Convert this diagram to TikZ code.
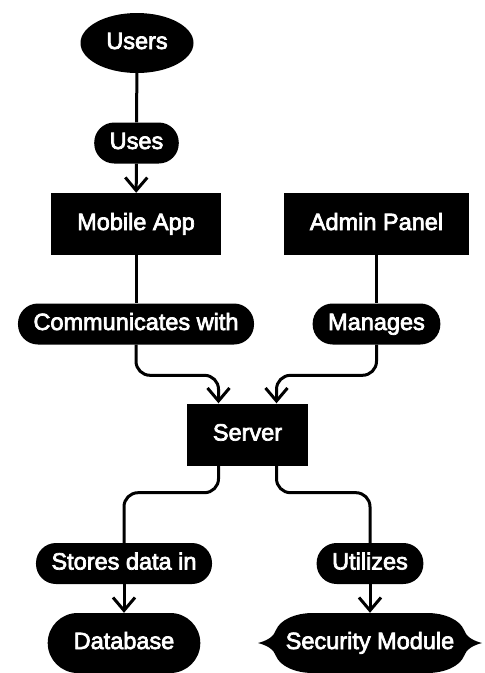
\documentclass[tikz,border=0pt]{standalone}
\usepackage{fontspec}
\setmainfont{Liberation Sans}
\newfontfamily\labelfont{Liberation Sans}[BoldFont=Liberation Sans, BoldFeatures={FakeBold=3}]
\usepackage{tikz}
\usetikzlibrary{calc,shapes.geometric,arrows.meta}

\tikzset{
	every node/.style={font=\fontsize{23.5}{28}\labelfont\bfseries, text=white, text height=17pt, text depth=5pt},
	entity/.style={ellipse, fill=black, inner sep=0pt, minimum width=113pt, minimum height=60pt},
	block/.style={rectangle, fill=black, inner xsep=26pt, inner ysep=0pt, minimum height=62pt},
	store/.style={rectangle, fill=black, rounded corners=30pt, inner xsep=26pt, inner ysep=0pt, minimum height=60pt},
	pill/.style={rectangle, fill=black, rounded corners=20pt, inner xsep=15.5pt, inner ysep=0pt, minimum height=41pt},
	link/.style={draw=black, line width=3pt, rounded corners=14pt},
	arr/.style={-{Straight Barb[length=13pt,width=22pt]}}
}

\begin{document}
\begin{tikzpicture}[x=1pt,y=-1pt]
	\useasboundingbox (0,0) rectangle (485,673);
	
	%security module shape - manual fill
	\fill[black] (313,613) -- (427,613)
		.. controls (445,613) and (460,620) .. (464,630)
		.. controls (466,637) and (474,641) .. (482,643)
		.. controls (474,645) and (466,649) .. (464,656)
		.. controls (460,666) and (445,673) .. (427,673) -- (313,673)
		.. controls (295,673) and (280,666) .. (276,656)
		.. controls (274,649) and (266,645) .. (258,643)
		.. controls (266,641) and (274,637) .. (276,630)
		.. controls (280,620) and (295,613) .. (313,613);
	
	%nodes
	\node[entity] (users)  at (137,43)    {Users};
	\node[block]  (mobile) at (136,224)   {Mobile App};
	\node[block]  (admin)  at (376.5,224) {Admin Panel};
	\node[block]  (server) at (247.5,434.5) {Server};
	\node[store]  (database) at (124,643) {Database};
	\node[inner sep=0pt, minimum width=224pt, minimum height=60pt] (security) at (370,643) {Security Module};
	
	%edge labels
	\node[pill] (uses)     at (136.5,143) {Uses};
	\node[pill] (comm)     at (136,324)   {Communicates with};
	\node[pill] (manages)  at (376.5,324) {Manages};
	\node[pill] (stores)   at (124,563.5) {Stores data in};
	\node[pill] (utilizes) at (370,563.5) {Utilizes};
	
	%lines
	\draw[link] (users) -- (uses);
	\draw[link,arr] (uses) -- (mobile);
	\draw[link] (mobile) -- (comm);
	\draw[link] (admin) -- (manages);
	\draw[link,arr] (comm.south) |- ($(server.north)+(-29,-28)$) -- ($(server.north)+(-29,0)$);
	\draw[link,arr] (manages.south) |- ($(server.north)+(29,-28)$) -- ($(server.north)+(29,0)$);
	\draw[link] ($(server.south)+(-29,0)$) -- ++(0,27) -| (stores.north);
	\draw[link] ($(server.south)+(29,0)$) -- ++(0,27) -| (utilizes.north);
	\draw[link,arr] (stores) -- (database);
	\draw[link,arr] (utilizes) -- (security);
	
	%\draw[help lines] (0,0) grid (485,673);
\end{tikzpicture}
\end{document}
